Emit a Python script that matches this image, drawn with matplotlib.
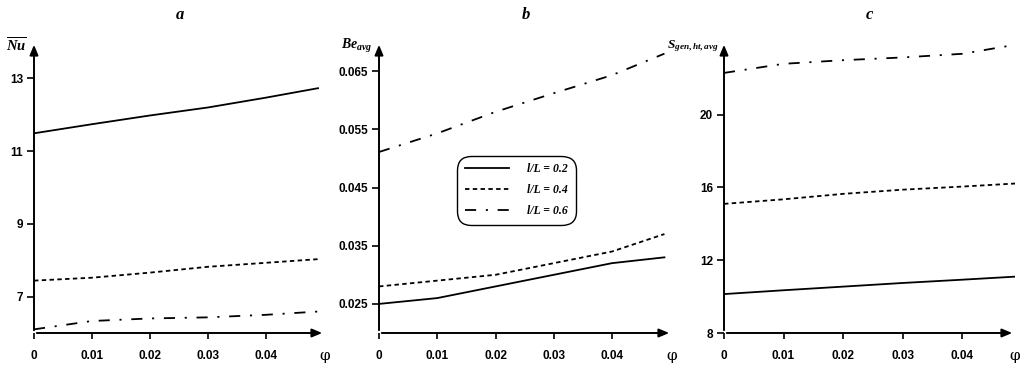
import numpy as np
import matplotlib
matplotlib.use("Agg")
import matplotlib.pyplot as plt

# volume fraction phi
phi = [0, 0.01, 0.02, 0.03, 0.04, 0.049]

# panel a: average Nusselt number
nu_02 = [11.49, 11.74, 11.98, 12.20, 12.47, 12.73]
nu_04 = [7.44, 7.52, 7.66, 7.82, 7.93, 8.03]
nu_06 = [6.10, 6.33, 6.40, 6.43, 6.50, 6.59]

# panel b: average Bejan number
be_02 = [0.025, 0.026, 0.028, 0.030, 0.032, 0.033]
be_04 = [0.028, 0.029, 0.030, 0.032, 0.034, 0.037]
be_06 = [0.0511, 0.0543, 0.0580, 0.0612, 0.0643, 0.0680]

# panel c: entropy generation
s_02 = [10.14, 10.35, 10.55, 10.75, 10.93, 11.10]
s_04 = [15.10, 15.35, 15.65, 15.88, 16.05, 16.22]
s_06 = [22.30, 22.80, 23.00, 23.15, 23.35, 23.85]

labels = ["l/L = 0.2", "l/L = 0.4", "l/L = 0.6"]
xticks = [0, 0.01, 0.02, 0.03, 0.04]
xticklabels = ["0", "0.01", "0.02", "0.03", "0.04"]

plt.rcParams['lines.scale_dashes'] = False
plt.rcParams['mathtext.fontset'] = 'custom'
plt.rcParams['mathtext.it'] = 'Liberation Serif:italic:bold'
plt.rcParams['mathtext.rm'] = 'Liberation Serif:bold'

W, H = 1024, 367
fig = plt.figure(figsize=(W / 100, H / 100), dpi=100)

styles = ['-', (0, (3.2, 2.4)), (0, (8, 7, 1.5, 7))]


def make_panel(left_px, width_px, xmax, ylim, yticks, yticklabels, series, title, ylabel, ylab_px, ylab_size):
    bottom_px, top_px = 333, 42
    ax = fig.add_axes([left_px / W, (H - bottom_px) / H, width_px / W, (bottom_px - top_px) / H])
    for ys, ls, lab in zip(series, styles, labels):
        ax.plot(phi, ys, color='black', lw=1.3, linestyle=ls, label=lab)
    ax.set_xlim(0, xmax)
    ax.set_ylim(*ylim)
    for s in ['top', 'right', 'left', 'bottom']:
        ax.spines[s].set_visible(False)
    # axes drawn as arrows
    ax.annotate('', xy=(1, 0), xytext=(0, 0), xycoords='axes fraction',
                arrowprops=dict(arrowstyle='-|>,head_length=0.6,head_width=0.25', color='black', lw=1.4))
    ax.annotate('', xy=(0, 1), xytext=(0, 0), xycoords='axes fraction',
                arrowprops=dict(arrowstyle='-|>,head_length=0.6,head_width=0.25', color='black', lw=1.4))
    ax.set_xticks(xticks)
    ax.set_xticklabels(xticklabels)
    ax.set_yticks(yticks)
    ax.set_yticklabels(yticklabels)
    ax.tick_params(axis='x', direction='out', length=4, width=1.2, pad=8)
    ax.tick_params(axis='y', direction='out', length=5, width=1.2, pad=3)
    for t in ax.get_xticklabels() + ax.get_yticklabels():
        t.set_fontfamily('Liberation Sans')
        t.set_fontweight('bold')
        t.set_fontsize(8.5)
    ax.text(1.0, -0.055, 'φ', transform=ax.transAxes, ha='center', va='top',
            fontsize=11, fontfamily='DejaVu Serif')
    fig.text((left_px + width_px / 2) / W, 1 - 15 / H, title, ha='center', va='center',
             fontsize=12, fontfamily='Liberation Serif', fontweight='bold', fontstyle='italic')
    # y label sits left of the arrow head
    fig.text(ylab_px / W, 1 - 46 / H, ylabel, ha='right', va='center', fontsize=ylab_size)
    return ax


make_panel(34, 291, 0.0502, (6, 14), [7, 9, 11, 13], ["7", "9", "11", "13"],
           [nu_02, nu_04, nu_06], 'a', r'$\overline{Nu}$', 27, 10.5)
axb = make_panel(379, 293, 0.0503, (0.020, 0.070), [0.025, 0.035, 0.045, 0.055, 0.065],
                 ["0.025", "0.035", "0.045", "0.055", "0.065"],
                 [be_02, be_04, be_06], 'b', r'$Be_{avg}$', 372, 10)
make_panel(724, 291, 0.0489, (8, 24), [8, 12, 16, 20], ["8", "12", "16", "20"],
           [s_02, s_04, s_06], 'c', r'$S_{gen,ht,avg}$', 719, 9.5)

leg = axb.legend(loc='upper left', bbox_to_anchor=(0.258, 0.617), frameon=True,
                 fancybox=True, edgecolor='black', framealpha=1, handlelength=3.8,
                 handletextpad=1.5, labelspacing=0.75, borderpad=0.35,
                 prop=dict(family='Liberation Serif', weight='bold', style='italic', size=8.5))
leg.get_frame().set_linewidth(1.0)
leg.get_frame().set_boxstyle('round,pad=0.3,rounding_size=1.2')

fig.savefig('out.png', dpi=100)
